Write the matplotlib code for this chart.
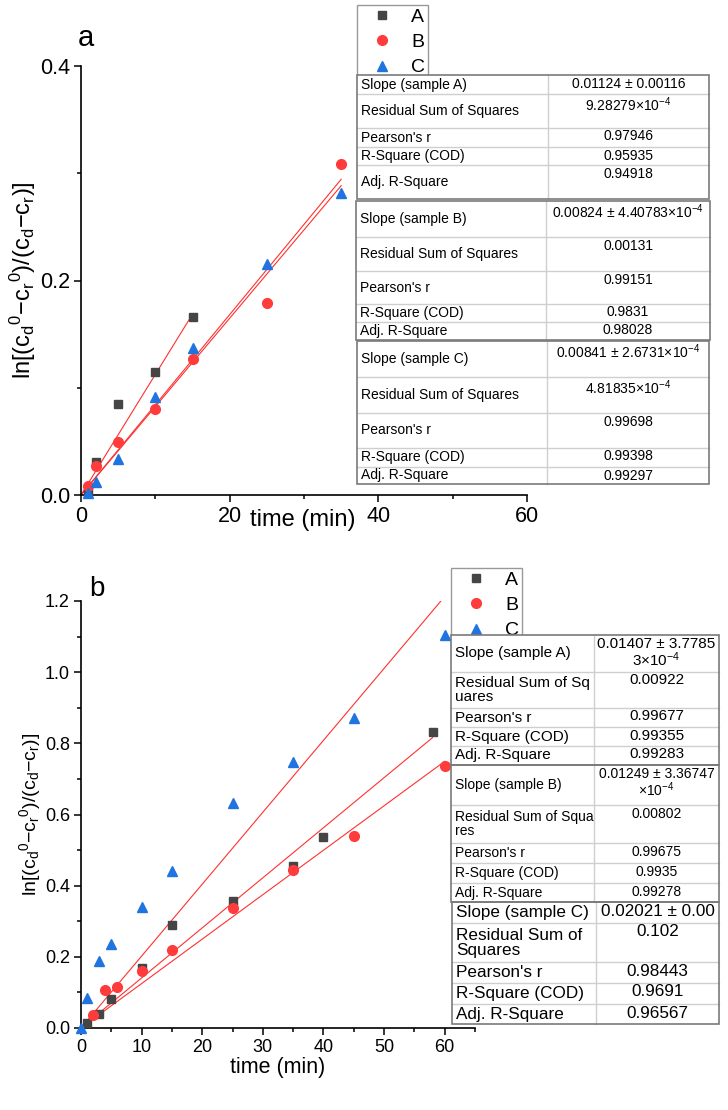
import numpy as np
import matplotlib
matplotlib.use("Agg")
import matplotlib.pyplot as plt
from matplotlib.patches import Rectangle
from matplotlib.ticker import MultipleLocator

plt.rcParams['font.family'] = ['Liberation Sans', 'DejaVu Sans']
plt.rcParams['mathtext.default'] = 'regular'

# ---- panel a data ----
a_tA = [1, 2, 5, 10, 15]
a_yA = [0.003, 0.031, 0.085, 0.115, 0.166]
a_tB = [1, 2, 5, 10, 15, 25, 35]
a_yB = [0.008, 0.027, 0.049, 0.080, 0.127, 0.179, 0.309]
a_tC = [1, 2, 5, 10, 15, 25, 35]
a_yC = [0.002, 0.012, 0.034, 0.091, 0.137, 0.215, 0.282]
a_slopes = [0.01124, 0.00824, 0.00841]

# ---- panel b data ----
b_tA = [1, 3, 5, 10, 15, 25, 35, 40, 58]
b_yA = [0.014, 0.038, 0.081, 0.169, 0.290, 0.356, 0.456, 0.538, 0.831]
b_tB = [2, 4, 6, 10, 15, 25, 35, 45, 60]
b_yB = [0.036, 0.108, 0.114, 0.159, 0.218, 0.337, 0.444, 0.539, 0.736]
b_tC = [0, 1, 3, 5, 10, 15, 25, 35, 45, 60]
b_yC = [0.0, 0.084, 0.187, 0.237, 0.340, 0.442, 0.633, 0.748, 0.872, 1.104]
b_slopes = [0.01407, 0.01249, 0.02021]

series_names = ['A', 'B', 'C']

# ---- table texts ----
stat_labels = ["Slope (sample A)", "Residual Sum of Squares", "Pearson's r",
               "R-Square (COD)", "Adj. R-Square"]
a_labB = ["Slope (sample B)"] + stat_labels[1:]
a_labC = ["Slope (sample C)"] + stat_labels[1:]
a_valsA = ["0.01124 ± 0.00116", "9.28279×10$^{-4}$", "0.97946", "0.95935", "0.94918"]
a_valsB = ["0.00824 ± 4.40783×10$^{-4}$", "0.00131", "0.99151", "0.9831", "0.98028"]
a_valsC = ["0.00841 ± 2.6731×10$^{-4}$", "4.81835×10$^{-4}$", "0.99698", "0.99398", "0.99297"]
b_labA = ["Slope (sample A)", "Residual Sum of Sq\nuares", "Pearson's r",
          "R-Square (COD)", "Adj. R-Square"]
b_valsA = ["0.01407 ± 3.7785\n3×10$^{-4}$", "0.00922", "0.99677", "0.99355", "0.99283"]
b_labB = ["Slope (sample B)", "Residual Sum of Squa\nres", "Pearson's r",
          "R-Square (COD)", "Adj. R-Square"]
b_valsB = ["0.01249 ± 3.36747\n×10$^{-4}$", "0.00802", "0.99675", "0.9935", "0.99278"]
b_labC = ["Slope (sample C)", "Residual Sum of\nSquares", "Pearson's r",
          "R-Square (COD)", "Adj. R-Square"]
b_valsC = ["0.02021 ± 0.00", "0.102", "0.98443", "0.9691", "0.96567"]

gray = '#454545'
red = '#ff3b3b'
blue = '#1f74e0'
linered = '#ff3030'
ylab = r'ln[(c$_d$$^0$$-$c$_r$$^0$)/(c$_d$$-$c$_r$)]'

W, H = 728, 1110
fig = plt.figure(figsize=(W / 100, H / 100), dpi=100)


def setup(ax, xmax, ymax, xmaj, xmin, ymaj, ymin, fs):
    ax.set_xlim(0, xmax)
    ax.set_ylim(0, ymax)
    ax.xaxis.set_major_locator(MultipleLocator(xmaj))
    ax.xaxis.set_minor_locator(MultipleLocator(xmin))
    ax.yaxis.set_major_locator(MultipleLocator(ymaj))
    ax.yaxis.set_minor_locator(MultipleLocator(ymin))
    ax.spines['top'].set_visible(False)
    ax.spines['right'].set_visible(False)
    for s in ['left', 'bottom']:
        ax.spines[s].set_linewidth(1.2)
    ax.tick_params(which='major', direction='out', length=5, width=1.1, labelsize=fs, pad=3)
    ax.tick_params(which='minor', direction='out', length=3, width=1.1)
    ax.set_facecolor('none')


def draw_series(ax, data, slopes, ms):
    mk = ['s', 'o', '^']
    cols = [gray, red, blue]
    sizes = [ms, ms + 1.5, ms + 1.5]
    for (t, y), k, m, c, s, name in zip(data, slopes, mk, cols, sizes, series_names):
        tt = np.array([0, max(t)])
        ax.plot(tt, k * tt, color=linered, lw=0.8, zorder=2)
        ax.plot(t, y, linestyle='none', marker=m, color=c, ms=s, label=name,
                zorder=3, clip_on=False)


# panel a
axa = fig.add_axes([81 / W, 1 - 495 / H, 446 / W, 429 / H])
setup(axa, 60, 0.4, 20, 10, 0.2, 0.1, 15.5)
draw_series(axa, [(a_tA, a_yA), (a_tB, a_yB), (a_tC, a_yC)], a_slopes, 5.5)
axa.set_ylabel(ylab, fontsize=17)
axa.yaxis.set_label_coords(-0.097, 0.5)
axa.set_xlabel('time (min)', fontsize=17)
axa.xaxis.set_label_coords(0.498, -0.033)
fig.text(86 / W, 1 - 38 / H, 'a', fontsize=21, ha='center', va='center')

# panel b
axb = fig.add_axes([81 / W, 1 - 1028 / H, 394 / W, 427 / H])
setup(axb, 65, 1.2, 10, 5, 0.2, 0.1, 13)
draw_series(axb, [(b_tA, b_yA), (b_tB, b_yB), (b_tC, b_yC)], b_slopes, 5.5)
axb.set_ylabel(ylab, fontsize=14)
axb.yaxis.set_label_coords(-0.097, 0.5)
axb.set_xlabel('time (min)', fontsize=15.5)
axb.xaxis.set_label_coords(0.5, -0.068)
fig.text(97 / W, 1 - 589 / H, 'b', fontsize=20, ha='center', va='center')

# legends
for ax, x0, y0 in [(axa, 357, 5), (axb, 451, 568)]:
    h, l = ax.get_legend_handles_labels()
    leg = fig.legend(h, l, loc='upper left', bbox_to_anchor=(x0 / W, 1 - y0 / H),
                     fontsize=14, frameon=True, fancybox=False, borderpad=0.15,
                     labelspacing=0.4, handlelength=2.3, handletextpad=0.35,
                     borderaxespad=0, markerscale=1.0)
    leg.get_frame().set_edgecolor('#808080')
    leg.get_frame().set_linewidth(1.0)

# tables on an overlay in pixel coordinates
ov = fig.add_axes([0, 0, 1, 1], zorder=10)
ov.set_xlim(0, W)
ov.set_ylim(H, 0)
ov.axis('off')


def table(x0, x1, xc, rows, labels, values, fs):
    ov.add_patch(Rectangle((x0, rows[0]), x1 - x0, rows[-1] - rows[0],
                           facecolor='white', edgecolor='none', zorder=1))
    for r in rows[1:-1]:
        ov.plot([x0, x1], [r, r], color='#cfcfcf', lw=1.0, zorder=2)
    ov.plot([xc, xc], [rows[0], rows[-1]], color='#cfcfcf', lw=1.0, zorder=2)
    ov.add_patch(Rectangle((x0, rows[0]), x1 - x0, rows[-1] - rows[0],
                           facecolor='none', edgecolor='#7a7a7a', lw=1.2, zorder=3))
    for i in range(len(labels)):
        top, bot = rows[i], rows[i + 1]
        ov.text(x0 + 4, (top + bot) / 2, labels[i], fontsize=fs, ha='left', va='center',
                linespacing=1.0, zorder=4)
        ov.text((xc + x1) / 2, top + 1.5, values[i], fontsize=fs, ha='center', va='top',
                linespacing=1.0, zorder=4, clip_on=True)


table(357, 709, 548, [75, 94, 128, 147, 165, 199], stat_labels, a_valsA, 10)
table(356, 710, 546, [201, 237, 271, 304, 322, 340], a_labB, a_valsB, 10)
table(357, 709, 547, [341, 377, 413, 448, 467, 484], a_labC, a_valsC, 10)
table(451, 719, 594, [635, 672, 708, 727, 746, 765], b_labA, b_valsA, 11)
table(451, 719, 594, [765, 805, 843, 863, 883, 902], b_labB, b_valsB, 10)
table(452, 719, 596, [902, 923, 962, 983, 1004, 1024], b_labC, b_valsC, 12.3)

fig.savefig('out.png', dpi=100)
